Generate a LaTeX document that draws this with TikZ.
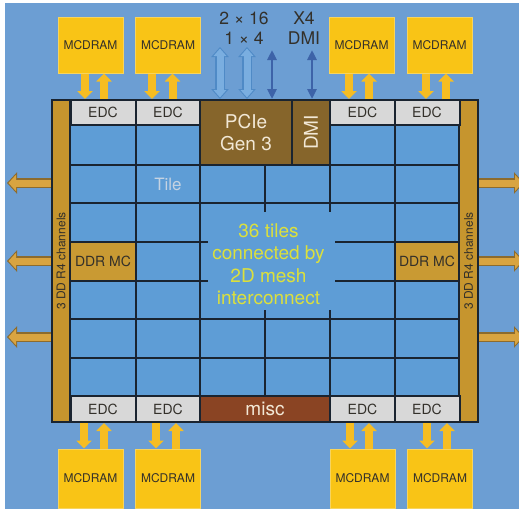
\documentclass[tikz,border=0pt]{standalone}
\usepackage{fontspec}
\setmainfont{TeX Gyre Heros}
\usetikzlibrary{arrows.meta}

\definecolor{bgblue}{HTML}{6C9ED3}
\definecolor{cellblue}{HTML}{5E9DD6}
\definecolor{gridline}{HTML}{1A2430}
\definecolor{bargold}{HTML}{C6952E}
\definecolor{ddrgold}{HTML}{C99A33}
\definecolor{edcgrey}{HTML}{D8D8D8}
\definecolor{pciebrown}{HTML}{86652B}
\definecolor{miscbrown}{HTML}{8A4423}
\definecolor{memyellow}{HTML}{F9C416}
\definecolor{memedge}{HTML}{F7D45E}
\definecolor{memarrowc}{HTML}{F6BD22}
\definecolor{sidefill}{HTML}{D9A440}
\definecolor{sideedge}{HTML}{8C6B2E}
\definecolor{pciefill}{HTML}{7AAEE0}
\definecolor{pcieedge}{HTML}{4F8AC6}
\definecolor{dmiblue}{HTML}{3D63A8}
\definecolor{textdark}{HTML}{33302A}
\definecolor{textlight}{HTML}{F2E8D6}
\definecolor{tilegrey}{HTML}{C5D3E2}
\definecolor{meshyellow}{HTML}{DCE03C}

\begin{document}
\begin{tikzpicture}[x=1pt,y=-1pt,
  every node/.style={inner sep=0pt},
  cell/.style={draw=gridline,line width=2pt},
  mcdram/.style={fill=memyellow,draw=memedge,line width=1pt,minimum width=65pt,
    minimum height=56pt,text=textdark,font=\fontsize{12}{14}\selectfont},
  edc/.style={cell,fill=edcgrey,minimum width=65pt,minimum height=25pt,
    text=textdark,font=\fontsize{14}{16}\selectfont},
  chipblock/.style={cell,text=textlight,font=\fontsize{19}{22}\selectfont},
  ddrmc/.style={cell,fill=ddrgold,minimum width=66pt,minimum height=39pt,
    text=textdark,font=\fontsize{14}{16}\selectfont},
  sidebar/.style={cell,fill=bargold,rotate=90,minimum width=322pt,minimum height=18pt,
    text=textdark,font=\fontsize{12}{14}\selectfont},
  toplabel/.style={align=center,text=textdark,font=\fontsize{17.5}{20}\selectfont},
  memarrow/.style={draw=memarrowc,line width=8pt,-{Triangle[width=15pt,length=8pt]}},
  sideouter/.style={draw=sideedge,line width=10pt,-{Triangle[width=21pt,length=10pt]}},
  sideinner/.style={draw=sidefill,line width=7pt,shorten >=1.5pt,
    -{Triangle[width=16pt,length=7.5pt]}},
  pcieouter/.style={draw=pcieedge,line width=10pt,
    {Triangle[width=17pt,length=10pt]}-{Triangle[width=17pt,length=10pt]}},
  pcieinner/.style={draw=pciefill,line width=7pt,shorten >=1.5pt,shorten <=1.5pt,
    {Triangle[width=12.5pt,length=7.5pt]}-{Triangle[width=12.5pt,length=7.5pt]}},
  dmiarrow/.style={draw=dmiblue,line width=2.5pt,
    {Triangle[width=9pt,length=10pt]}-{Triangle[width=9pt,length=10pt]}}]
\useasboundingbox (0,0) rectangle (519,509);
\clip (0,0) rectangle (519,509);
\fill[white] (0,0) rectangle (519,509);
\fill[bgblue] (5,3) rectangle (519,509);

% tile mesh
\fill[cellblue] (70,100) rectangle (459,422);
\draw[cell] (136,100) -- (136,422);
\draw[cell] (200,100) -- (200,422);
\draw[cell] (265,100) -- (265,422);
\draw[cell] (330,100) -- (330,422);
\draw[cell] (395,100) -- (395,422);
\draw[cell] (70,125) -- (459,125);
\draw[cell] (70,165) -- (459,165);
\draw[cell] (70,203) -- (459,203);
\draw[cell] (70,242) -- (459,242);
\draw[cell] (70,281) -- (459,281);
\draw[cell] (70,319) -- (459,319);
\draw[cell] (70,358) -- (459,358);
\draw[cell] (70,396) -- (459,396);
\fill[cellblue] (208,212) rectangle (335,310);

% chip blocks
\node[sidebar] (barl) at (61,261) {3 DD R4 channels};
\node[sidebar,minimum height=19pt] (barr) at (468.5,261) {3 DD R4 channels};
\node[edc] (etop1) at (103,112.5) {EDC};
\node[edc] (etop2) at (168,112.5) {EDC};
\node[edc] (etop3) at (362.5,112.5) {EDC};
\node[edc] (etop4) at (427,112.5) {EDC};
\node[edc,minimum height=26pt] (ebot1) at (103,409) {EDC};
\node[edc,minimum height=26pt] (ebot2) at (168,409) {EDC};
\node[edc,minimum height=26pt] (ebot3) at (362.5,409) {EDC};
\node[edc,minimum height=26pt] (ebot4) at (427,409) {EDC};
\node[chipblock,fill=pciebrown,minimum width=92pt,minimum height=65pt,align=center]
  (pcie) at (246,132.5) {PCIe\\Gen 3};
\node[chipblock,fill=pciebrown,rotate=90,minimum width=65pt,minimum height=38pt]
  (dmi) at (311,132.5) {DMI};
\node[chipblock,fill=miscbrown,minimum width=130pt,minimum height=26pt]
  (misc) at (265,409) {misc};
\node[ddrmc] (ddrl) at (103,261.5) {DDR MC};
\node[ddrmc,minimum width=64pt] (ddrr) at (427,261.5) {DDR MC};
\node[text=tilegrey,font=\fontsize{17}{20}\selectfont] (tile) at (168,184) {Tile};
\node[align=center,text=meshyellow,font=\fontsize{19}{22.5}\selectfont]
  (mesh) at (268.5,264) {36 tiles\\connected by\\2D mesh\\interconnect};
\draw[gridline,line width=2pt] (52,100) rectangle (478,422);

% MCDRAM stacks
\node[mcdram] (mtop1) at (90.5,45) {MCDRAM};
\node[mcdram] (mtop2) at (168,45) {MCDRAM};
\node[mcdram] (mtop3) at (361.5,45) {MCDRAM};
\node[mcdram] (mtop4) at (439.5,45) {MCDRAM};
\node[mcdram,minimum height=59pt] (mbot1) at (90.5,478.5) {MCDRAM};
\node[mcdram,minimum height=59pt] (mbot2) at (168,478.5) {MCDRAM};
\node[mcdram,minimum height=59pt] (mbot3) at (362.5,478.5) {MCDRAM};
\node[mcdram,minimum height=59pt] (mbot4) at (440,478.5) {MCDRAM};

% MCDRAM <-> EDC links
\draw[memarrow] ([xshift=-18pt]etop1.north |- mtop1.south) -- ([xshift=-18pt]etop1.north);
\draw[memarrow] ([xshift=1pt]etop1.north) -- ([xshift=1pt]etop1.north |- mtop1.south);
\draw[memarrow] ([xshift=-16pt]etop2.north |- mtop2.south) -- ([xshift=-16pt]etop2.north);
\draw[memarrow] ([xshift=4.5pt]etop2.north) -- ([xshift=4.5pt]etop2.north |- mtop2.south);
\draw[memarrow] ([xshift=-13.5pt]etop3.north |- mtop3.south) -- ([xshift=-13.5pt]etop3.north);
\draw[memarrow] ([xshift=6.5pt]etop3.north) -- ([xshift=6.5pt]etop3.north |- mtop3.south);
\draw[memarrow] ([xshift=-1pt]etop4.north |- mtop4.south) -- ([xshift=-1pt]etop4.north);
\draw[memarrow] ([xshift=19pt]etop4.north) -- ([xshift=19pt]etop4.north |- mtop4.south);
\draw[memarrow] ([xshift=-19pt]ebot1.south) -- ([xshift=-19pt]ebot1.south |- mbot1.north);
\draw[memarrow] ([xshift=1pt]ebot1.south |- mbot1.north) -- ([xshift=1pt]ebot1.south);
\draw[memarrow] ([xshift=-12pt]ebot2.south) -- ([xshift=-12pt]ebot2.south |- mbot2.north);
\draw[memarrow] ([xshift=8pt]ebot2.south |- mbot2.north) -- ([xshift=8pt]ebot2.south);
\draw[memarrow] ([xshift=-12.5pt]ebot3.south) -- ([xshift=-12.5pt]ebot3.south |- mbot3.north);
\draw[memarrow] ([xshift=6.5pt]ebot3.south |- mbot3.north) -- ([xshift=6.5pt]ebot3.south);
\draw[memarrow] ([xshift=0pt]ebot4.south) -- ([xshift=0pt]ebot4.south |- mbot4.north);
\draw[memarrow] ([xshift=20pt]ebot4.south |- mbot4.north) -- ([xshift=20pt]ebot4.south);

% DDR4 channels
\coordinate (ddrl1) at (7,183);
\coordinate (ddrl2) at (7,261);
\coordinate (ddrl3) at (7,337);
\coordinate (ddrr1) at (524,183);
\coordinate (ddrr2) at (524,261);
\coordinate (ddrr3) at (524,337);
\draw[sideouter] (barl.north |- ddrl1) -- (ddrl1);
\draw[sideinner] (barl.north |- ddrl1) -- (ddrl1);
\draw[sideouter] (barl.north |- ddrl2) -- (ddrl2);
\draw[sideinner] (barl.north |- ddrl2) -- (ddrl2);
\draw[sideouter] (barl.north |- ddrl3) -- (ddrl3);
\draw[sideinner] (barl.north |- ddrl3) -- (ddrl3);
\draw[sideouter] (barr.south |- ddrr1) -- (ddrr1);
\draw[sideinner] (barr.south |- ddrr1) -- (ddrr1);
\draw[sideouter] (barr.south |- ddrr2) -- (ddrr2);
\draw[sideinner] (barr.south |- ddrr2) -- (ddrr2);
\draw[sideouter] (barr.south |- ddrr3) -- (ddrr3);
\draw[sideinner] (barr.south |- ddrr3) -- (ddrr3);

% PCIe and DMI lanes
\node[toplabel] (lblpcie) at (244,28) {2 × 16\\1 × 4};
\node[toplabel] (lbldmi) at (304,28) {X4\\DMI};
\coordinate (lane1) at (220,47);
\coordinate (lane2) at (247,47);
\coordinate (lane3) at (272,50);
\coordinate (lane4) at (312,50);
\draw[pcieouter] (lane1) -- (lane1 |- pcie.north);
\draw[pcieinner] (lane1) -- (lane1 |- pcie.north);
\draw[pcieouter] (lane2) -- (lane2 |- pcie.north);
\draw[pcieinner] (lane2) -- (lane2 |- pcie.north);
\draw[dmiarrow] (lane3) -- (lane3 |- pcie.north);
\draw[dmiarrow] (lane4) -- (lane4 |- pcie.north);
\end{tikzpicture}
\end{document}
